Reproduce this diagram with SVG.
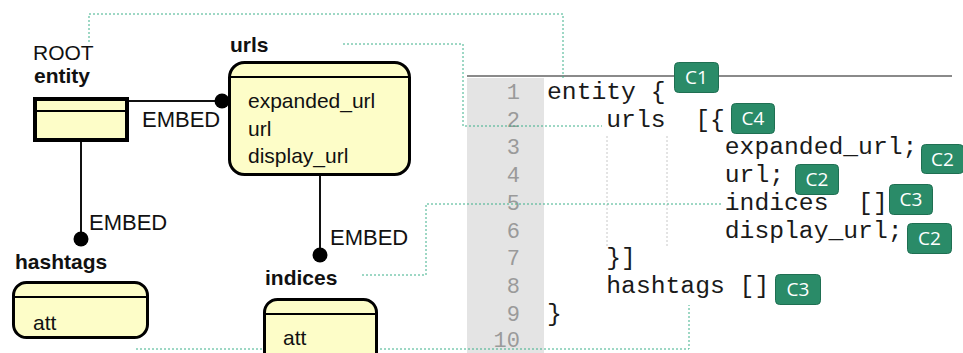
<svg xmlns="http://www.w3.org/2000/svg" width="963" height="353" viewBox="0 0 963 353">
<style>
.lbl{font-family:"Liberation Sans",Arial,sans-serif;font-size:21px;fill:#111}
.bold{font-family:"Liberation Sans",Arial,sans-serif;font-size:21px;font-weight:bold;fill:#111}
.emb{font-family:"Liberation Sans",Arial,sans-serif;font-size:22px;fill:#111}
.box{fill:#fdfdc8;stroke:#000;stroke-width:3}
.conn{stroke:#111;stroke-width:2;fill:none}
.guide{stroke:#3cb08a;stroke-width:1;stroke-dasharray:2,2;fill:none}
.code{font-family:"Liberation Mono","Courier New",monospace;font-size:24.7px;fill:#1a1a1a}
.ln{font-family:"Liberation Mono","Courier New",monospace;font-size:22px;fill:#9a9a9a;text-anchor:end}
.badge rect{fill:#2a8b68;stroke:#1f6f52;stroke-width:1}
.badge text{font-family:"Open Sans","Liberation Sans",sans-serif;font-size:19px;fill:#fff;text-anchor:middle}
.vg{stroke:#c8c8c8;stroke-width:1;stroke-dasharray:2,2}
</style>

<!-- code panel -->
<g id="code-panel">
  <rect x="467" y="78" width="77" height="280" fill="#e4e4e4"/>
  <line x1="467" y1="76" x2="952" y2="76" stroke="#8a8a8a" stroke-width="2"/>
  <line class="vg" x1="607" y1="136" x2="607" y2="246"/>
  <line class="vg" x1="667" y1="136" x2="667" y2="246"/>
  <text class="ln" x="520" y="99">1</text>
  <text class="ln" x="520" y="127">2</text>
  <text class="ln" x="520" y="154">3</text>
  <text class="ln" x="520" y="182">4</text>
  <text class="ln" x="520" y="210">5</text>
  <text class="ln" x="520" y="238">6</text>
  <text class="ln" x="520" y="265">7</text>
  <text class="ln" x="520" y="293">8</text>
  <text class="ln" x="520" y="321">9</text>
  <text class="ln" x="520" y="347">10</text>
  <text class="code" x="547" y="99" xml:space="preserve">entity {</text>
  <text class="code" x="547" y="127" xml:space="preserve">    urls  [{</text>
  <text class="code" x="547" y="154" xml:space="preserve">            expanded_url;</text>
  <text class="code" x="547" y="182" xml:space="preserve">            url;</text>
  <text class="code" x="547" y="210" xml:space="preserve">            indices  []</text>
  <text class="code" x="547" y="238" xml:space="preserve">            display_url;</text>
  <text class="code" x="547" y="265" xml:space="preserve">    }]</text>
  <text class="code" x="547" y="293" xml:space="preserve">    hashtags []</text>
  <text class="code" x="547" y="321" xml:space="preserve">}</text>
</g>

<!-- connectors -->
<g id="connectors">
  <line class="conn" x1="129" y1="101" x2="222" y2="101"/>
  <circle cx="222" cy="101" r="7.5" fill="#000"/>
  <line class="conn" x1="81" y1="142" x2="81" y2="239"/>
  <circle cx="81" cy="239" r="7.5" fill="#000"/>
  <line class="conn" x1="320" y1="176" x2="320" y2="255"/>
  <circle cx="320" cy="255" r="7.5" fill="#000"/>
  <text class="emb" x="142" y="127">EMBED</text>
  <text class="emb" x="89" y="230">EMBED</text>
  <text class="emb" x="330" y="245">EMBED</text>
  <path class="guide" d="M89,42 V14 H563 V78"/>
  <path class="guide" d="M343,44 H463 V126 H602"/>
  <path class="guide" d="M362,275 H426 V204 H722"/>
  <path class="guide" d="M136,349 H689 V305"/>
</g>

<!-- nodes -->
<g id="entity">
  <text class="lbl" x="33" y="60">ROOT</text>
  <text class="bold" x="34" y="83">entity</text>
  <rect x="35" y="99" width="92" height="41" fill="#fdfdc8" stroke="#000" stroke-width="4"/>
  <line x1="35" y1="111" x2="127" y2="111" stroke="#000" stroke-width="2"/>
</g>

<g id="urls">
  <text class="bold" x="230" y="52">urls</text>
  <rect class="box" x="229.5" y="62.5" width="180" height="112" rx="15"/>
  <line x1="230" y1="77" x2="409" y2="77" stroke="#000" stroke-width="2"/>
  <text class="lbl" x="248" y="108">expanded_url</text>
  <text class="lbl" x="248" y="136">url</text>
  <text class="lbl" x="248" y="163">display_url</text>
</g>

<g id="hashtags">
  <text class="bold" x="15" y="269">hashtags</text>
  <rect class="box" x="13.5" y="282.5" width="134" height="55" rx="13"/>
  <line x1="14" y1="297" x2="147" y2="297" stroke="#000" stroke-width="2"/>
  <text class="lbl" x="33" y="330">att</text>
</g>

<g id="indices">
  <text class="bold" x="265" y="285">indices</text>
  <rect class="box" x="264.5" y="299.5" width="112" height="66" rx="13"/>
  <line x1="265" y1="314" x2="376" y2="314" stroke="#000" stroke-width="2"/>
  <text class="lbl" x="283" y="345">att</text>
</g>

<!-- badges -->
<g id="badge-c1" class="badge"><rect x="674.5" y="62.5" width="44" height="30" rx="4"/><text x="696.5" y="84">C1</text></g>
<g id="badge-c4" class="badge"><rect x="731.5" y="103.5" width="43" height="30" rx="4"/><text x="753" y="125">C4</text></g>
<g id="badge-c2a" class="badge"><rect x="921.5" y="144.5" width="42" height="29" rx="4"/><text x="942.5" y="166">C2</text></g>
<g id="badge-c2b" class="badge"><rect x="795.5" y="164.5" width="43" height="30" rx="4"/><text x="817" y="186">C2</text></g>
<g id="badge-c3a" class="badge"><rect x="889.5" y="184.5" width="43" height="30" rx="4"/><text x="911" y="206">C3</text></g>
<g id="badge-c2c" class="badge"><rect x="907.5" y="223.5" width="44" height="30" rx="4"/><text x="929.5" y="245">C2</text></g>
<g id="badge-c3b" class="badge"><rect x="775.5" y="274.5" width="45" height="30" rx="4"/><text x="798" y="296">C3</text></g>
</svg>
